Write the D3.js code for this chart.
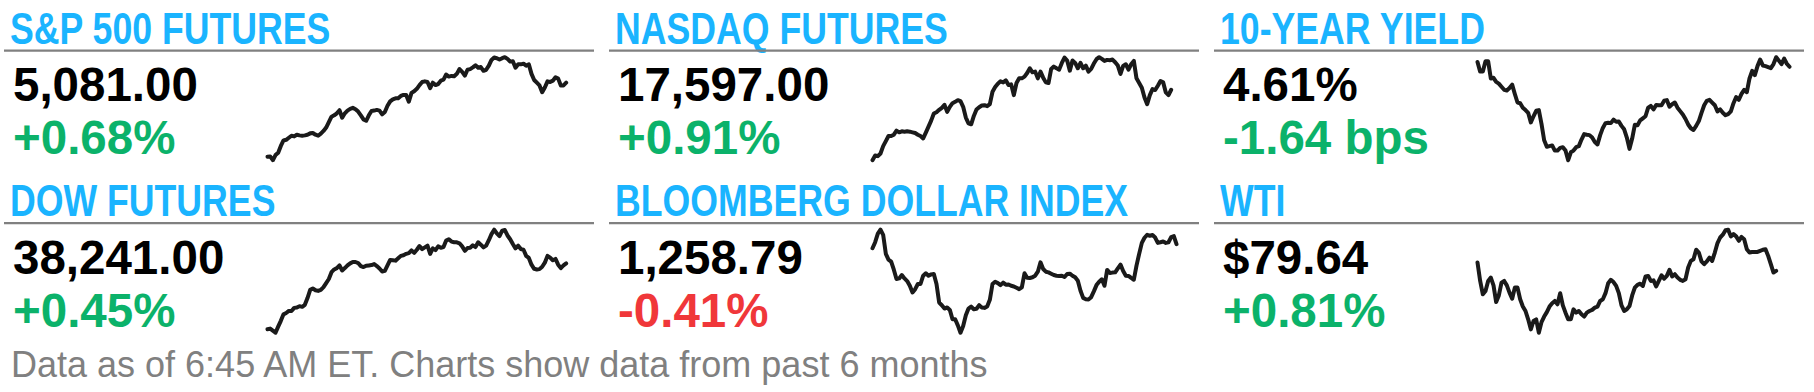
<!DOCTYPE html>
<html>
<head>
<meta charset="utf-8">
<script src="https://cdn.jsdelivr.net/npm/d3@7"></script>
<style>
  body { margin: 0; background: #fff; }
</style>
</head>
<body>
<div id="chart"></div>
<script>
// panel order: row 1 then row 2
var titles = ["S&P 500 FUTURES", "NASDAQ FUTURES", "10-YEAR YIELD",
              "DOW FUTURES", "BLOOMBERG DOLLAR INDEX", "WTI"];
var prices = ["5,081.00", "17,597.00", "4.61%", "38,241.00", "1,258.79", "$79.64"];
var changes = ["+0.68%", "+0.91%", "-1.64 bps", "+0.45%", "-0.41%", "+0.81%"];
var tones = ["good", "good", "good", "good", "bad", "good"];
var footnote = "Data as of 6:45 AM ET. Charts show data from past 6 months";

// six months of closes
var spx = [4380, 4383, 4350, 4395, 4416, 4476, 4524, 4530, 4548, 4566, 4560, 4575, 4569, 4566, 4569, 4575,
  4587, 4590, 4575, 4566, 4584, 4608, 4638, 4686, 4734, 4746, 4764, 4791, 4725, 4764, 4788, 4803,
  4812, 4800, 4779, 4746, 4710, 4698, 4746, 4785, 4788, 4794, 4788, 4755, 4776, 4830, 4869, 4887,
  4896, 4896, 4917, 4926, 4926, 4866, 4944, 4959, 4980, 5013, 5040, 5046, 5040, 4986, 5034, 5013,
  5022, 5052, 5061, 5106, 5088, 5094, 5091, 5112, 5154, 5130, 5097, 5148, 5154, 5169, 5187, 5166,
  5172, 5139, 5148, 5184, 5235, 5256, 5250, 5238, 5250, 5259, 5244, 5220, 5223, 5166, 5196, 5196,
  5202, 5184, 5196, 5112, 5058, 5034, 5010, 4950, 4992, 5046, 5040, 5052, 5082, 5070, 5010, 5010, 5034];

var ndx = [15430, 15570, 15550, 15630, 15850, 16000, 16150, 16150, 16190, 16310, 16260, 16290, 16280, 16290,
  16280, 16260, 16240, 16190, 16150, 16080, 16250, 16430, 16610, 16820, 16860, 16930, 16990, 17080,
  16870, 17020, 17130, 17170, 17220, 17190, 17020, 16700, 16530, 16500, 16750, 16940, 17010, 17060,
  17070, 17040, 17100, 17470, 17610, 17710, 17780, 17750, 17810, 17670, 17690, 17370, 17730, 17870,
  17870, 17920, 18030, 18170, 18050, 18070, 17870, 18070, 17890, 17750, 17730, 18150, 18220, 18170,
  18130, 18330, 18490, 18400, 18100, 18400, 18330, 18170, 18330, 18170, 18250, 18070, 18150, 18310,
  18440, 18500, 18450, 18390, 18420, 18410, 18430, 18350, 18250, 18000, 18240, 18290, 18130, 18290,
  18390, 17870, 17730, 17590, 17300, 17100, 17370, 17550, 17520, 17650, 17790, 17750, 17450, 17370, 17530];

var us10y = [4.654, 4.57, 4.57, 4.66, 4.66, 4.51, 4.516, 4.48, 4.465, 4.438, 4.411, 4.405, 4.426, 4.456,
  4.375, 4.30, 4.294, 4.255, 4.234, 4.21, 4.126, 4.18, 4.228, 4.234, 4.114, 3.97, 3.913, 3.919, 3.925,
  3.88, 3.88, 3.904, 3.91, 3.88, 3.796, 3.865, 3.88, 3.91, 3.919, 3.976, 4.024, 4.018, 4.015, 3.994,
  3.955, 3.934, 4.015, 4.078, 4.12, 4.123, 4.12, 4.15, 4.132, 4.135, 4.096, 4.066, 3.994, 3.895, 3.985,
  4.105, 4.102, 4.144, 4.162, 4.18, 4.255, 4.27, 4.24, 4.279, 4.276, 4.276, 4.315, 4.321, 4.264, 4.285,
  4.30, 4.255, 4.225, 4.195, 4.156, 4.108, 4.075, 4.06, 4.096, 4.138, 4.21, 4.276, 4.315, 4.324, 4.30,
  4.276, 4.222, 4.24, 4.21, 4.189, 4.198, 4.222, 4.294, 4.348, 4.324, 4.375, 4.411, 4.39, 4.51, 4.576,
  4.54, 4.618, 4.675, 4.624, 4.618, 4.609, 4.60, 4.636, 4.696, 4.666, 4.636, 4.684, 4.639, 4.612];

var dow = [35430, 35460, 35370, 35280, 35550, 35805, 36090, 36150, 36240, 36240, 36375, 36390, 36450, 36420,
  36510, 36810, 37170, 37230, 37155, 37125, 37170, 37290, 37470, 37650, 37950, 38070, 38130, 38250,
  38025, 38130, 38250, 38340, 38400, 38400, 38355, 38220, 38175, 38235, 38250, 38265, 38310, 38220,
  38115, 37980, 38010, 38250, 38490, 38475, 38460, 38565, 38670, 38700, 38760, 38790, 38910, 38805,
  38940, 39105, 38970, 39045, 39120, 38760, 39000, 38925, 39090, 39030, 39060, 39345, 39405, 39300,
  39270, 39270, 39225, 39090, 38895, 39015, 39030, 39135, 39060, 39270, 39165, 39045, 39120, 39360,
  39630, 39825, 39660, 39540, 39780, 39810, 39570, 39405, 39195, 39000, 39120, 38970, 38940, 38670,
  38580, 38280, 38100, 38070, 38085, 38190, 38370, 38670, 38595, 38475, 38535, 38280, 38130, 38250, 38340];

var bbdxy = [1256.8, 1259.5, 1263.3, 1265.1, 1262.8, 1254.3, 1251.7, 1250.8, 1247.2, 1243.0, 1243.3, 1244.8,
  1243.3, 1242.1, 1240.0, 1237.0, 1238.5, 1240.8, 1240.8, 1244.5, 1245.6, 1244.5, 1245.1, 1245.3, 1240.8,
  1232.5, 1231.3, 1229.8, 1230.3, 1229.2, 1225.0, 1225.0, 1222.3, 1219.0, 1222.0, 1226.8, 1229.8, 1230.7,
  1229.5, 1229.7, 1231.3, 1230.3, 1230.1, 1230.7, 1233.7, 1240.8, 1241.8, 1241.2, 1240.3, 1241.4, 1240.5,
  1240.6, 1240.0, 1239.7, 1239.1, 1238.5, 1239.3, 1245.6, 1243.6, 1243.5, 1243.8, 1244.5, 1246.3, 1250.5,
  1247.5, 1246.3, 1246.0, 1245.4, 1244.8, 1244.5, 1244.4, 1244.5, 1243.9, 1245.3, 1245.4, 1244.5, 1243.8,
  1242.3, 1237.8, 1234.6, 1234.0, 1233.9, 1234.9, 1237.5, 1240.3, 1241.8, 1242.9, 1240.0, 1247.1, 1245.7,
  1245.9, 1246.0, 1247.8, 1249.5, 1246.6, 1244.5, 1244.4, 1243.5, 1242.7, 1249.0, 1254.3, 1259.2, 1261.5,
  1262.8, 1262.4, 1262.7, 1261.6, 1259.2, 1259.5, 1259.8, 1259.2, 1259.5, 1261.8, 1262.2, 1258.6];

var wti = [81.2, 77.9, 75.5, 76.1, 77.9, 78.5, 77.1, 74.1, 75.3, 77.6, 77.9, 77.1, 75.8, 74.7, 76.7, 76.7,
  74.6, 73.3, 72.5, 71.0, 69.2, 70.7, 71.0, 68.6, 70.5, 71.5, 72.3, 73.3, 73.9, 74.3, 73.7, 75.7, 73.5,
  72.2, 71.0, 71.0, 72.8, 72.2, 72.5, 71.9, 71.5, 72.2, 72.5, 72.7, 73.1, 73.3, 74.3, 74.6, 75.7, 77.5,
  78.1, 77.7, 77.0, 75.7, 73.5, 72.5, 72.8, 73.4, 75.3, 76.7, 77.2, 77.4, 77.0, 78.7, 78.8, 77.9, 78.0,
  76.9, 77.9, 78.9, 78.3, 78.8, 79.9, 78.7, 79.1, 78.5, 78.1, 77.9, 78.2, 80.3, 81.5, 81.8, 83.5, 83.0,
  81.4, 80.9, 81.4, 82.1, 81.5, 83.0, 84.7, 85.7, 86.2, 87.0, 87.1, 85.9, 86.3, 85.9, 85.1, 85.8, 85.4,
  83.6, 83.0, 83.1, 83.1, 83.1, 83.3, 83.5, 83.6, 82.4, 80.9, 79.4, 79.7];

var series = [spx, ndx, us10y, dow, bbdxy, wti];

function init() {
    var w = 1814, h = 392;
    var colLeft = [4, 609, 1214];
    var colWidth = 590;
    var ruleY = [50.7, 223.2];
    var sparkLeft = 263.5;

    var toneColor = { good: "#0bb26a", bad: "#f0373a" };

    // title face is Arial Narrow; squeeze regular sans if no narrow face exists
    var ctx = document.createElement("canvas").getContext("2d");
    ctx.font = "bold 40px monospace";
    var a = ctx.measureText(titles[0]).width;
    ctx.font = "bold 40px 'Liberation Sans Narrow', monospace";
    var hasNarrow = ctx.measureText(titles[0]).width !== a;

    var svg = d3.select("#chart")
        .append("svg")
        .attr("width", w)
        .attr("height", h);

    var longest = d3.max(series, function (s) { return s.length; });
    var xScale = d3.scaleLinear()
        .domain([0, longest - 1])
        .range([0, (longest - 1) * 8 / 3]);

    series.forEach(function (data, i) {
        var col = i % 3, row = Math.floor(i / 3);
        var left = colLeft[col], rule = ruleY[row];

        var g = svg.append("g");

        var title = g.append("text")
            .text(titles[i])
            .attr("fill", "#1ab4ff")
            .style("font-weight", "bold")
            .style("font-size", "43.5px");
        if (hasNarrow) {
            title.attr("x", left + 6).attr("y", rule - 7)
                .style("font-family", "'Liberation Sans Narrow', 'Arial Narrow', sans-serif");
        } else {
            title.attr("transform", "translate(" + (left + 6) + "," + (rule - 7) + ") scale(0.82,1)")
                .style("font-family", "'Liberation Sans', Arial, sans-serif");
        }

        g.append("line")
            .attr("x1", left).attr("x2", left + colWidth)
            .attr("y1", rule).attr("y2", rule)
            .attr("stroke", "#808080")
            .attr("stroke-width", 2.2);

        g.append("text")
            .text(prices[i])
            .attr("x", left + 9)
            .attr("y", rule + 50.5)
            .attr("fill", "#000")
            .style("font-family", "'Liberation Sans', Arial, sans-serif")
            .style("font-weight", "bold")
            .style("font-size", "47.5px");

        g.append("text")
            .text(changes[i])
            .attr("x", left + 9)
            .attr("y", rule + 103.5)
            .attr("fill", toneColor[tones[i]])
            .style("font-family", "'Liberation Sans', Arial, sans-serif")
            .style("font-weight", "bold")
            .style("font-size", "47.5px");

        // sparkline
        var yScale = d3.scaleLinear()
            .domain(d3.extent(data))
            .range([rule + 109.5, rule + 6.5]);

        var line = d3.line()
            .x(function (d, k) { return left + sparkLeft + xScale(k); })
            .y(function (d) { return yScale(d); });

        g.append("path")
            .datum(data)
            .attr("d", line)
            .attr("fill", "none")
            .attr("stroke", "#1a1a1a")
            .attr("stroke-width", 4)
            .attr("stroke-linejoin", "round")
            .attr("stroke-linecap", "round");
    });

    svg.append("text")
        .text(footnote)
        .attr("x", 11)
        .attr("y", 377)
        .attr("fill", "#808080")
        .style("font-family", "'Liberation Sans', Arial, sans-serif")
        .style("font-size", "36px");
}

window.onload = init;
</script>
</body>
</html>
